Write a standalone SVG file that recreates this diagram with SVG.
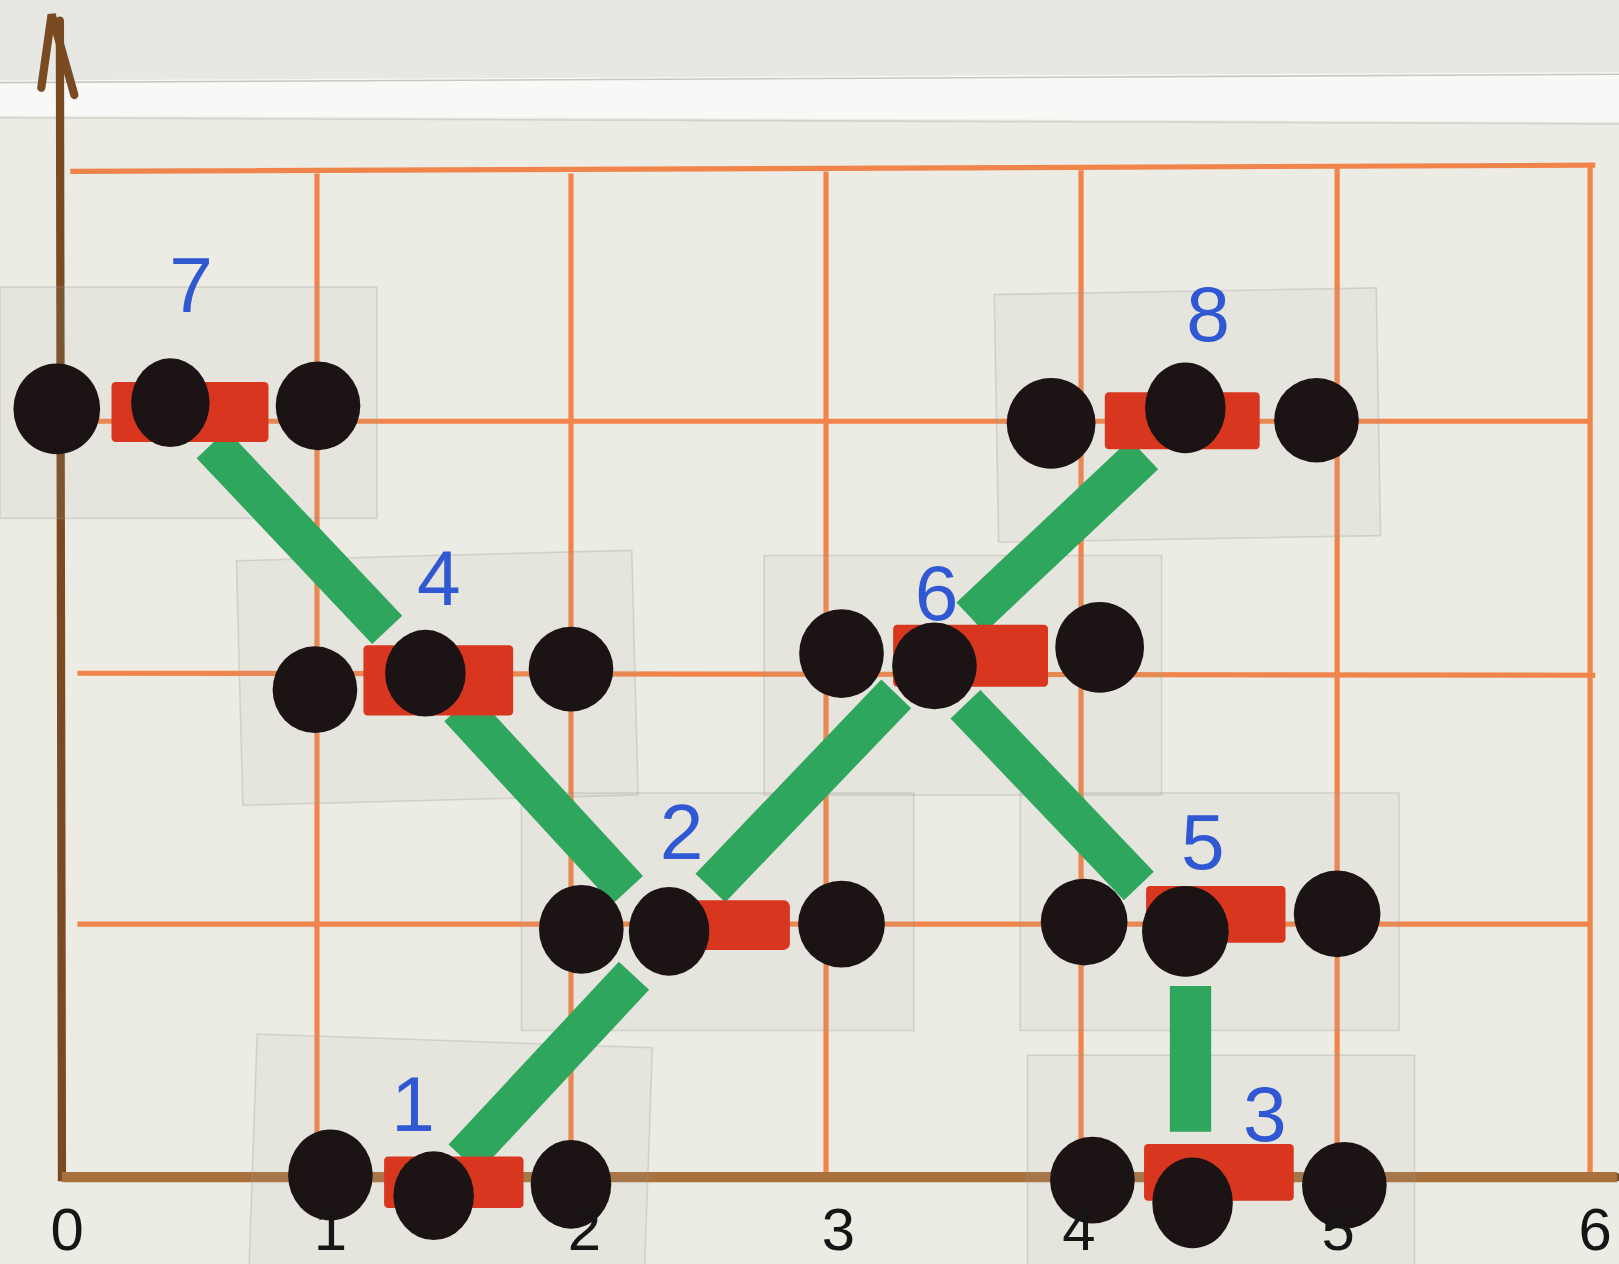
<svg xmlns="http://www.w3.org/2000/svg" width="1619" height="1264" viewBox="0 0 1619 1264">
<style>
.grid{stroke:#f0844a;stroke-width:5;fill:none}
.axis{stroke:#7a4a22;stroke-width:8;fill:none;stroke-linecap:round}
.tape{fill:#a9a9a2;fill-opacity:0.11;stroke:#9a9a94;stroke-opacity:0.3;stroke-width:1.5}
.dot{fill:#1c1414}
.red{fill:#d8361f}
.bar{stroke:#2fa65e;stroke-width:40;stroke-linecap:butt;stroke-linejoin:round;fill:none}
.num{fill:#2f58d2;font-family:"Liberation Sans",Arial,sans-serif;font-size:76px;text-anchor:middle}
.lab{fill:#151515;font-family:"Liberation Sans",Arial,sans-serif;font-size:58px;text-anchor:middle}
</style>
<rect width="1619" height="1264" fill="#ecebe4"/>
<g transform="scale(1.03253)">
<rect x="0" y="0" width="1568" height="80" fill="#e7e7e3"/>
<path d="M0 78 L1568 70 L1568 118 L0 112 Z" fill="#f8f8f6"/>
<path d="M0 80 L1568 72" stroke="#c8c8c2" stroke-width="1.5"/>
<path d="M0 114 L1568 120" stroke="#d2d2cc" stroke-width="1.5"/>
<g id="grid">
<path class="grid" d="M68 166 L1545 160 M72 408 L1540 408 M75 652 L1545 654 M75 895 L1540 895"/>
<path class="grid" d="M307 168 L307 1140 M553 168 L553 1140 M800 166 L800 1140 M1047 165 L1047 1140 M1295 162 L1295 1140 M1540 160 L1540 1140" stroke-width="4"/>
</g>
<g id="axes">
<path class="axis" d="M58 20 L60 1140 L1566 1140" stroke="#7b4a24"/>
<path d="M60 1140 L1566 1140" stroke="#a8713e" stroke-width="10"/>
<path class="axis" d="M40 85 L50 14 L72 92" stroke-width="7"/>
</g>
<g id="tapes">
<rect class="tape" x="0" y="278" width="365" height="224"/>
<rect class="tape" x="232" y="538" width="383" height="237" transform="rotate(-1.5 423 656)"/>
<rect class="tape" x="740" y="538" width="385" height="232"/>
<rect class="tape" x="965" y="282" width="370" height="240" transform="rotate(-1 1150 402)"/>
<rect class="tape" x="505" y="768" width="380" height="230"/>
<rect class="tape" x="988" y="768" width="367" height="230"/>
<rect class="tape" x="245" y="1008" width="383" height="230" transform="rotate(2 436 1120)"/>
<rect class="tape" x="995" y="1022" width="375" height="220"/>
</g>
<g id="connectors">
<line class="bar" x1="205" y1="430" x2="375" y2="610"/>
<line class="bar" x1="445" y1="685" x2="608" y2="862"/>
<line class="bar" x1="688" y1="860" x2="868" y2="672"/>
<line class="bar" x1="940" y1="598" x2="1108" y2="440"/>
<line class="bar" x1="935" y1="682" x2="1103" y2="858"/>
<line class="bar" x1="614" y1="945" x2="449" y2="1122"/>
<line class="bar" x1="1153" y1="955" x2="1153" y2="1096"/>
</g>
<g id="node7">
<rect class="red" x="108" y="370" width="152" height="58" rx="4"/>
<ellipse class="dot" cx="55" cy="396" rx="42" ry="44"/>
<ellipse class="dot" cx="165" cy="390" rx="38" ry="43"/>
<ellipse class="dot" cx="308" cy="393" rx="41" ry="43"/>
<text class="num" x="185" y="302">7</text>
</g>
<g id="node4">
<rect class="red" x="352" y="625" width="145" height="68" rx="4"/>
<ellipse class="dot" cx="305" cy="668" rx="41" ry="42"/>
<ellipse class="dot" cx="412" cy="652" rx="39" ry="42"/>
<ellipse class="dot" cx="553" cy="648" rx="41" ry="41"/>
<text class="num" x="425" y="586">4</text>
</g>
<g id="node6">
<rect class="red" x="865" y="605" width="150" height="60" rx="4"/>
<ellipse class="dot" cx="815" cy="633" rx="41" ry="43"/>
<ellipse class="dot" cx="905" cy="645" rx="41" ry="42"/>
<ellipse class="dot" cx="1065" cy="627" rx="43" ry="44"/>
<text class="num" x="907" y="600">6</text>
</g>
<g id="node8">
<rect class="red" x="1070" y="380" width="150" height="55" rx="4"/>
<ellipse class="dot" cx="1018" cy="410" rx="43" ry="44"/>
<ellipse class="dot" cx="1148" cy="395" rx="39" ry="44"/>
<ellipse class="dot" cx="1275" cy="407" rx="41" ry="41"/>
<text class="num" x="1170" y="330">8</text>
</g>
<g id="node2">
<rect class="red" x="620" y="872" width="145" height="48" rx="6"/>
<ellipse class="dot" cx="563" cy="900" rx="41" ry="43"/>
<ellipse class="dot" cx="648" cy="902" rx="39" ry="43"/>
<ellipse class="dot" cx="815" cy="895" rx="42" ry="42"/>
<text class="num" x="660" y="832">2</text>
</g>
<g id="node5">
<rect class="red" x="1110" y="858" width="135" height="55" rx="4"/>
<ellipse class="dot" cx="1050" cy="893" rx="42" ry="42"/>
<ellipse class="dot" cx="1148" cy="902" rx="42" ry="44"/>
<ellipse class="dot" cx="1295" cy="885" rx="42" ry="42"/>
<text class="num" x="1165" y="842">5</text>
</g>
<g id="node1">
<rect class="red" x="372" y="1120" width="135" height="50" rx="4"/>
<ellipse class="dot" cx="320" cy="1138" rx="41" ry="44"/>
<ellipse class="dot" cx="420" cy="1158" rx="39" ry="43"/>
<ellipse class="dot" cx="553" cy="1147" rx="39" ry="43"/>
<text class="num" x="400" y="1095">1</text>
</g>
<g id="node3">
<rect class="red" x="1108" y="1108" width="145" height="55" rx="4"/>
<ellipse class="dot" cx="1058" cy="1143" rx="41" ry="42"/>
<ellipse class="dot" cx="1155" cy="1165" rx="39" ry="44"/>
<ellipse class="dot" cx="1302" cy="1148" rx="41" ry="42"/>
<text class="num" x="1225" y="1105">3</text>
</g>
<g id="axis-labels">
<text class="lab" x="65" y="1211">0</text>
<text class="lab" x="320" y="1211">1</text>
<text class="lab" x="566" y="1211">2</text>
<text class="lab" x="812" y="1211">3</text>
<text class="lab" x="1045" y="1211">4</text>
<text class="lab" x="1296" y="1211">5</text>
<text class="lab" x="1545" y="1211">6</text>
</g>
</g>
</svg>
